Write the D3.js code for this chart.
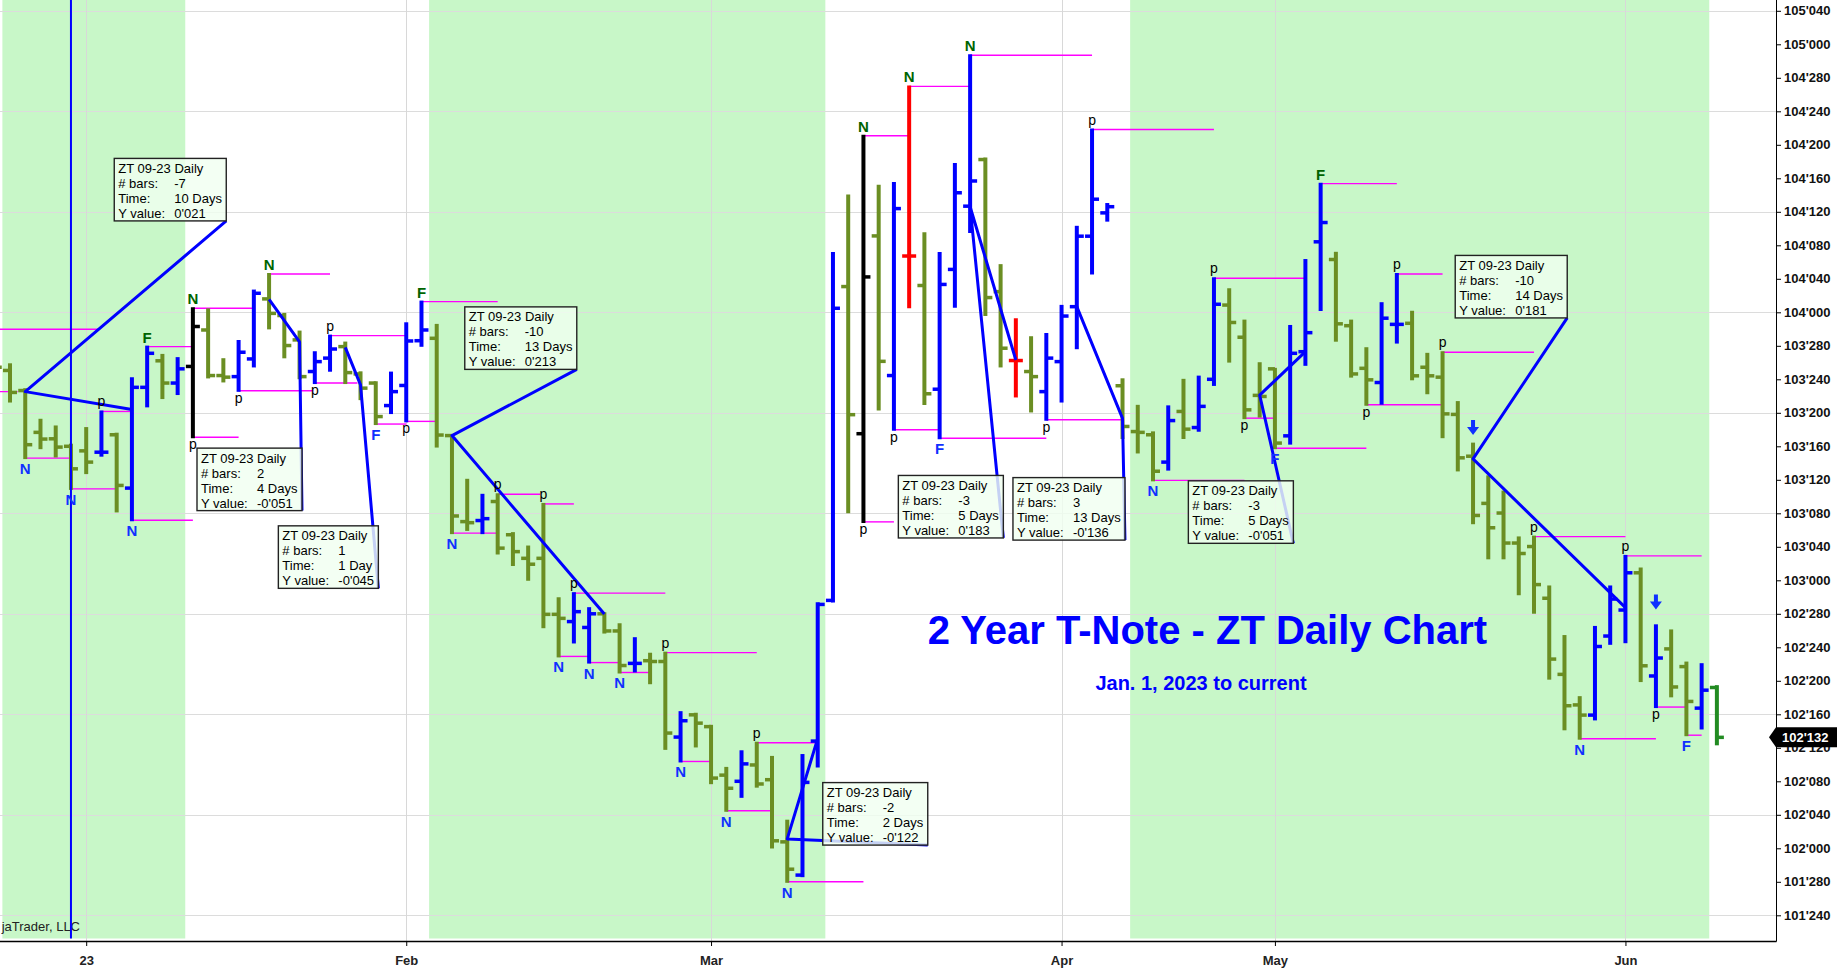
<!DOCTYPE html>
<html><head><meta charset="utf-8">
<script src="https://cdn.jsdelivr.net/npm/d3@7"></script>
<style>
html,body{margin:0;padding:0;background:#fff;overflow:hidden}
svg{display:block}
text{font-family:"Liberation Sans",Arial,Helvetica,sans-serif}
</style>
</head><body>
<svg id="chart" width="1837" height="970"></svg>
<script>
// ---------------- DATA ----------------
const firstBarIndex = -1; // first (partially visible) bar
// [open, high, low, close] per daily bar, from firstBarIndex upward
const ohlc = [
[103.800,103.830,103.740,103.795],
[103.783,103.806,103.667,103.701],[103.708,103.713,103.456,103.506],[103.552,103.599,103.493,103.527],
[103.528,103.574,103.462,103.497],[103.500,103.506,103.341,103.416],[103.483,103.568,103.400,103.441],
[103.478,103.630,103.465,103.478],[103.543,103.547,103.257,103.354],[103.344,103.754,103.224,103.720],
[103.720,103.872,103.649,103.847],[103.819,103.841,103.680,103.736],[103.736,103.829,103.695,103.789],
[103.798,104.015,103.534,103.947],[103.934,104.011,103.757,103.764],[103.764,103.825,103.742,103.758],
[103.760,103.893,103.707,103.851],[103.826,104.081,103.798,104.071],[104.050,104.143,103.940,103.996],
[103.988,103.994,103.832,103.876],[103.897,103.928,103.754,103.760],[103.779,103.851,103.736,103.816],
[103.829,103.913,103.782,103.863],[103.872,103.887,103.736,103.775],[103.770,103.776,103.676,103.717],
[103.736,103.739,103.583,103.611],[103.652,103.775,103.624,103.704],[103.727,103.959,103.593,103.893],
[103.894,104.040,103.875,103.934],[103.903,103.953,103.499,103.542],[103.540,103.542,103.176,103.240],
[103.219,103.375,103.188,103.215],[103.223,103.319,103.176,103.230],[103.294,103.321,103.100,103.120],
[103.170,103.176,103.057,103.107],[103.082,103.126,103.002,103.060],[103.082,103.285,102.825,102.873],
[102.873,102.933,102.716,102.858],[102.846,102.952,102.768,102.883],[102.824,102.896,102.693,102.875],
[102.875,102.877,102.805,102.811],[102.811,102.836,102.656,102.682],[102.690,102.784,102.660,102.690],
[102.700,102.726,102.616,102.697],[102.697,102.730,102.371,102.430],[102.415,102.508,102.324,102.476],
[102.498,102.502,102.380,102.467],[102.454,102.457,102.243,102.262],[102.273,102.300,102.140,102.224],
[102.250,102.362,102.192,102.315],[102.311,102.394,102.230,102.240],[102.256,102.341,102.003,102.028],
[102.024,102.103,101.875,101.922],[101.900,102.348,101.896,102.246],[102.400,102.914,102.305,102.910],
[102.925,104.221,102.921,104.015],[104.096,104.436,103.254,103.618],[103.547,104.659,103.218,104.132],
[104.285,104.472,103.637,103.817],[103.764,104.482,103.562,104.387],[104.210,104.843,104.019,104.210],
[104.100,104.295,103.658,103.696],[103.713,104.221,103.530,104.104],[104.160,104.553,104.021,104.446],
[104.396,104.959,104.300,104.490],[104.570,104.574,103.990,104.055],[104.077,104.176,103.798,103.866],
[103.820,103.974,103.686,103.820],[103.779,103.907,103.630,103.760],[103.704,103.919,103.599,103.829],
[103.816,104.024,103.667,103.986],[104.021,104.319,103.866,104.284],[104.284,104.682,104.145,104.422],
[104.371,104.404,104.342,104.394],[103.726,103.750,103.531,103.574],[103.555,103.651,103.477,103.552],
[103.543,103.552,103.373,103.407],[103.441,103.649,103.413,103.596],[103.630,103.748,103.531,103.564],
[103.570,103.760,103.558,103.649],[103.750,104.127,103.729,104.030],[104.027,104.086,103.816,103.962],
[103.907,103.969,103.605,103.636],[103.690,103.810,103.611,103.686],[103.789,103.789,103.493,103.512],
[103.539,103.949,103.510,103.847],[103.853,104.195,103.804,103.924],[104.263,104.480,104.009,104.335],
[104.197,104.222,103.894,103.957],[103.950,103.969,103.760,103.770],[103.791,103.866,103.655,103.748],
[103.738,104.034,103.659,103.978],[103.955,104.143,103.887,103.955],[103.959,104.002,103.750,103.763],
[103.795,103.845,103.698,103.763],[103.758,103.851,103.534,103.621],[103.619,103.665,103.410,103.457],
[103.463,103.510,103.213,103.242],[103.287,103.388,103.082,103.196],[103.251,103.331,103.082,103.139],
[103.139,103.160,102.948,103.100],[103.126,103.163,102.879,102.984],[102.933,102.977,102.633,102.706],
[102.649,102.792,102.444,102.532],[102.535,102.564,102.409,102.497],[102.497,102.826,102.481,102.753],
[102.792,102.977,102.763,102.930],[102.889,103.091,102.769,103.028],[103.028,103.044,102.624,102.681],
[102.643,102.832,102.527,102.710],[102.744,102.813,102.567,102.602],[102.678,102.693,102.422,102.548],
[102.523,102.687,102.447,102.590],[102.600,102.605,102.388,102.414]
];
// bar signal per bar: d = down, u = up, k = key bar, a = alert bar, l = last bar
const barSignal = ("d"+"dddddd"+"u"+"d"+"uu"+"d"+"u"+"k"+"dd"+"uu"+"ddd"+"uu"+"ddd"+"uuu"+"ddd"+"u"+
  "ddddd"+"uu"+"dd"+"u"+"dd"+"u"+"ddd"+"u"+"ddd"+"uuu"+"d"+"k"+"d"+"u"+"a"+"d"+"uuu"+"dd"+"a"+"d"+
  "uuuuu"+"ddd"+"u"+"d"+"uu"+"dddd"+"uuu"+"ddd"+"uu"+"dddddddddddd"+"uuu"+"d"+"u"+"dd"+"u"+"l").split("");

const monthTickIdx = [5, 26, 46, 69, 83, 106];
const monthTickLabels = ["23", "Feb", "Mar", "Apr", "May", "Jun"];

// shaded (green) periods, first & last bar index
const bandStart = [0, 28, 74];
const bandEnd = [11, 53, 111];

// pivot labels: bar index, text, side (H above high, L below low)
const pivotIdx  = [1,4,8,12,15,20,24,26,29,36,38,40,44,47,51,56,58,61,68,75,81,83,89,103,108,110,
                   6,9,12,17,21,27,32,35,37,43,49,56,59,63,71,79,86,91,94,100,106];
const pivotText = ["N","N","N","p","p","p","F","p","N","N","N","N","N","N","N","p","p","F","p","N","p","F","p","N","p","F",
                   "p","F","N","N","p","F","p","p","p","p","p","N","N","N","p","p","F","p","p","p","p"];
const pivotSide = "LLLLLLLLLLLLLLLLLLLLLLLLLL".split("").concat("HHHHHHHHHHHHHHHHHHHHH".split(""));

// horizontal pivot level lines: start bar, price, end bar
const levelStart = [-3,-2,1,4,6,8,9,12,12,15,17,20,21,24,26,27,29,32,35,36,37,38,40,43,44,47,49,51,56,56,58,59,61,63,68,71,75,79,81,83,86,89,91,94,100,103,106,108,110];
const levelPrice = [103.937,103.704,103.456,103.341,103.630,103.224,103.872,104.015,103.534,103.707,104.143,103.736,103.913,103.583,103.593,104.040,103.176,103.321,103.285,102.716,102.952,102.693,102.656,102.730,102.324,102.140,102.394,101.875,104.659,103.218,103.562,104.843,103.530,104.959,103.599,104.682,103.373,104.127,103.605,103.493,104.480,103.655,104.143,103.851,103.163,102.409,103.091,102.527,102.422];
const levelEnd   = [5.9,0.5,3.9,7,8,12,12,16,15,19.9,21,22.8,26,26,28,32,32,34.8,37,38,43,40,42,49,46,50,53,56,59,58,61,63,68,71,73,79,81,85,83,89,91,94,94,100,106,108,111,110,111];

// down arrows: bar index, price of arrow tip
const arrowIdx = [96, 108];
const arrowPrice = [103.542, 102.891];

// cursor line at bar
const cursorIdx = 4;

// measurement tool annotations
const measureInstrument = "ZT 09-23 Daily";
const measureStart = [[8,103.637],[17,104.048],[22,103.869],[39,102.874],[53,102.410],[66,103.822],[70,104.021],[85,103.853],[106,102.898]];
const measureEnd   = [[1,103.704],[19,103.890],[23,103.729],[29,103.540],[51,102.035],[63,104.394],[73,103.604],[82,103.691],[96,103.453]];
const measureText  = [[14.19,104.341],[19.16,103.260],[24.17,102.970],[37.19,103.787],[60.22,102.012],[65.18,103.158],[73.16,103.150],[84.21,103.138],[102.18,103.979]];
const measureDays  = ["10 Days","4 Days","1 Day","13 Days","2 Days","5 Days","13 Days","5 Days","14 Days"];
const measureYValue= ["0'021","-0'051","-0'045","0'213","-0'122","0'183","-0'136","-0'051","0'181"];

const lastPrice = 102.414;
const titleText = "2 Year T-Note - ZT Daily Chart";
const subtitleText = "Jan. 1, 2023 to current";
const creditText = "jaTrader, LLC"; // visible part of the platform credit

// ---------------- LAYOUT ----------------
const W = 1837, H = 970;
const plotRight = 1776, plotBottom = 941, bandBottom = 938.5;
const colors = {d:"#6b8e23", u:"#0000ff", k:"#000000", a:"#ff0000", l:"#228b22"};
const svg = d3.select("#chart");

const x = d3.scaleLinear().domain([-1, 112]).range([-5.24, 1716.88]);
const y = d3.scaleLinear().domain([101.75, 105.125]).range([915.3, 10.8]);

function fmt32(p){
  const whole = Math.floor(p + 1e-9);
  const t = (p - whole) * 32;
  const n = Math.floor(t + 1e-6);
  const e = Math.round((t - n) * 8);
  const map = ["0","1","2","3","5","6","7","8"];
  return whole + "'" + String(n).padStart(2,"0") + map[Math.min(e,7)];
}

svg.append("rect").attr("width",W).attr("height",H).attr("fill","#fff");
const plot = svg.append("g");
plot.append("clipPath").attr("id","clip").append("rect").attr("x",0).attr("y",0).attr("width",plotRight).attr("height",plotBottom);
const P = plot.append("g").attr("clip-path","url(#clip)");

// bands
P.selectAll("rect.band").data(bandStart).join("rect").attr("class","band")
  .attr("x",(d)=>x(d-0.5)).attr("y",0)
  .attr("width",(d,i)=>x(bandEnd[i]+0.5)-x(d-0.5)).attr("height",bandBottom)
  .attr("fill","#c8f7c8");

// grid
const yTicks = d3.range(0, 28).map(i => 101.75 + i*0.125);
const gridVals = yTicks.filter((v,i)=> i % 3 === 0);
P.selectAll("line.hg").data(gridVals).join("line").attr("class","hg")
  .attr("x1",0).attr("x2",plotRight).attr("y1",d=>Math.round(y(d))+0.5).attr("y2",d=>Math.round(y(d))+0.5)
  .attr("stroke","#dcdcdc").attr("stroke-width",1);
P.selectAll("line.vg").data(monthTickIdx).join("line").attr("class","vg")
  .attr("x1",d=>Math.round(x(d))+0.5).attr("x2",d=>Math.round(x(d))+0.5).attr("y1",0).attr("y2",plotBottom)
  .attr("stroke","#d8d8d8").attr("stroke-width",1);

// level lines
P.selectAll("line.lvl").data(levelStart).join("line").attr("class","lvl")
  .attr("x1",d=>x(d)).attr("x2",(d,i)=>x(levelEnd[i]))
  .attr("y1",(d,i)=>y(levelPrice[i])).attr("y2",(d,i)=>y(levelPrice[i]))
  .attr("stroke","#ff00ff").attr("stroke-width",1.4);

// bars
const barData = ohlc.map((v,k)=>({i:k+firstBarIndex, o:v[0], h:v[1], l:v[2], c:v[3], s:barSignal[k]}));
const bg = P.selectAll("g.bar").data(barData).join("g").attr("class","bar")
  .attr("stroke",d=>colors[d.s]);
bg.append("line").attr("x1",d=>x(d.i)).attr("x2",d=>x(d.i)).attr("y1",d=>y(d.h)-1).attr("y2",d=>y(d.l)+1).attr("stroke-width",4);
bg.append("line").attr("x1",d=>x(d.i)-7).attr("x2",d=>x(d.i)).attr("y1",d=>y(d.o)).attr("y2",d=>y(d.o)).attr("stroke-width",3.5);
bg.append("line").attr("x1",d=>x(d.i)).attr("x2",d=>x(d.i)+7).attr("y1",d=>y(d.c)).attr("y2",d=>y(d.c)).attr("stroke-width",3.5);

// measurement lines
const mData = measureStart.map((s,k)=>({s, e:measureEnd[k], t:measureText[k], days:measureDays[k], yv:measureYValue[k]}));
P.selectAll("path.meas").data(mData).join("path").attr("class","meas")
  .attr("d",d=>d3.line()([[x(d.s[0]),y(d.s[1])],[x(d.e[0]),y(d.e[1])],[x(d.t[0]),y(d.t[1])]]))
  .attr("fill","none").attr("stroke","#0000ff").attr("stroke-width",3).attr("stroke-linejoin","round");

// credit
P.append("text").attr("x",80).attr("y",931).attr("text-anchor","end").attr("font-size",13).attr("fill","#222").text(creditText);

// cursor line
P.append("line").attr("x1",x(cursorIdx)).attr("x2",x(cursorIdx)).attr("y1",0).attr("y2",bandBottom)
  .attr("stroke","#0000ff").attr("stroke-width",2);

// measurement boxes
mData.forEach(d=>{
  const g = P.append("g");
  const rect = g.append("rect").attr("fill","#f0fff0").attr("fill-opacity",0.82).attr("stroke","#222").attr("stroke-width",1.4);
  const nb = d.e[0]-d.s[0];
  const rows = [[measureInstrument,null],["# bars:", String(nb)],["Time:", d.days],["Y value:", d.yv]];
  let maxW = 0;
  rows.forEach((r,j)=>{
    const t1 = g.append("text").attr("x",4).attr("y",14.5+j*15).attr("font-size",13).attr("fill","#000").text(r[0]);
    if(r[1]===null){ maxW = Math.max(maxW, t1.node().getComputedTextLength()+4); }
    else {
      const t2 = g.append("text").attr("x",60).attr("y",14.5+j*15).attr("font-size",13).attr("fill","#000").text(r[1]);
      maxW = Math.max(maxW, 60 + t2.node().getComputedTextLength());
    }
  });
  const bw = Math.ceil(maxW + 4), bh = 62.5;
  rect.attr("x",0).attr("y",0).attr("width",bw).attr("height",bh);
  g.attr("transform",`translate(${x(d.t[0])-bw},${y(d.t[1])-bh})`);
});

// pivot labels
const pv = pivotIdx.map((i,k)=>({i, t:pivotText[k], side:pivotSide[k]}));
P.selectAll("text.pv").data(pv).join("text").attr("class","pv")
  .attr("x",d=>x(d.i)).attr("text-anchor","middle")
  .attr("y",d=>{
    const b = ohlc[d.i-firstBarIndex];
    if(d.side==="H") return y(b[1]) - (d.t==="p"?5:4);
    return y(b[2]) + (d.t==="p"?12:16);
  })
  .attr("font-size",d=>d.t==="p"?14:15)
  .attr("font-weight",d=>d.t==="p"?"normal":"bold")
  .attr("fill",d=> d.t==="p" ? "#000" : (d.side==="H" ? "#006400" : "#1030ff"))
  .text(d=>d.t);

// arrows
arrowIdx.forEach((i,k)=>{
  const cx = x(i), ty = y(arrowPrice[k]);
  P.append("path").attr("d",`M${cx-2},${ty-15} L${cx+2},${ty-15} L${cx+2},${ty-8} L${cx+6},${ty-8} L${cx},${ty} L${cx-6},${ty-8} L${cx-2},${ty-8} Z`)
    .attr("fill","#1030ff");
});

// title
P.append("text").attr("x",1207.4).attr("y",644).attr("text-anchor","middle").attr("font-size",40).attr("font-weight","bold").attr("fill","#0000ff").text(titleText);
P.append("text").attr("x",1201).attr("y",690).attr("text-anchor","middle").attr("font-size",20).attr("font-weight","bold").attr("fill","#0000ff").text(subtitleText);

// axes
const yAxis = d3.axisRight(y).tickValues(yTicks).tickFormat(fmt32).tickSize(5).tickPadding(3);
const ya = svg.append("g").attr("transform",`translate(${plotRight},0)`).call(yAxis);
ya.select(".domain").remove();
ya.selectAll("text").attr("font-size",13).attr("font-weight","bold").attr("fill","#111").attr("font-family",'"Liberation Sans",Arial,sans-serif');
ya.selectAll("line").attr("stroke","#000");
svg.append("line").attr("x1",plotRight+0.5).attr("x2",plotRight+0.5).attr("y1",0).attr("y2",plotBottom+0.5).attr("stroke","#000");
svg.append("line").attr("x1",0).attr("x2",plotRight+0.5).attr("y1",plotBottom+0.5).attr("y2",plotBottom+0.5).attr("stroke","#000").attr("stroke-width",1.3);

const xAxis = d3.axisBottom(x).tickValues(monthTickIdx).tickFormat((d,i)=>monthTickLabels[i]).tickSize(5).tickPadding(10);
const xa = svg.append("g").attr("transform",`translate(0,${plotBottom})`).call(xAxis);
xa.select(".domain").remove();
xa.selectAll("line").attr("stroke","#000");
xa.selectAll("text").attr("font-size",13).attr("font-weight","bold").attr("fill","#222").attr("font-family",'"Liberation Sans",Arial,sans-serif');

// last price marker
const ly = y(lastPrice);
svg.append("path").attr("d",`M${plotRight-7},${ly} L${plotRight},${ly-10} L${W},${ly-10} L${W},${ly+10} L${plotRight},${ly+10} Z`).attr("fill","#000");
svg.append("text").attr("x",plotRight+6).attr("y",ly+5).attr("font-size",13).attr("font-weight","bold").attr("fill","#fff").text(fmt32(lastPrice));
</script>
</body></html>
